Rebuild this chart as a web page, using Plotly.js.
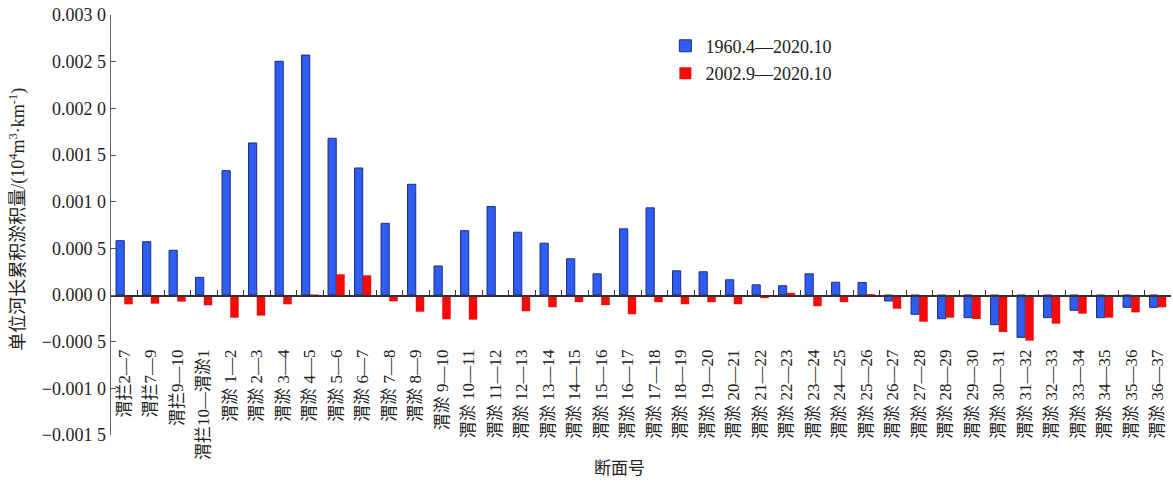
<!DOCTYPE html>
<html>
<head>
<meta charset="utf-8">
<script src="https://cdn.plot.ly/plotly-3.0.1.min.js"></script>
<style>html,body{margin:0;padding:0;background:#fff;}#chart{width:1173px;height:483px;}</style>
</head>
<body>
<div id="chart"></div>
<script>
const categories = ["渭拦2—7","渭拦7—9","渭拦9—10","渭拦10—渭淤1",
"渭淤 1—2","渭淤 2—3","渭淤 3—4","渭淤 4—5","渭淤 5—6","渭淤 6—7","渭淤 7—8","渭淤 8—9","渭淤 9—10","渭淤 10—11",
"渭淤 11—12","渭淤 12—13","渭淤 13—14","渭淤 14—15","渭淤 15—16","渭淤 16—17","渭淤 17—18","渭淤 18—19","渭淤 19—20","渭淤 20—21",
"渭淤 21—22","渭淤 22—23","渭淤 23—24","渭淤 24—25","渭淤 25—26","渭淤 26—27","渭淤 27—28","渭淤 28—29","渭淤 29—30","渭淤 30—31",
"渭淤 31—32","渭淤 32—33","渭淤 33—34","渭淤 34—35","渭淤 35—36","渭淤 36—37"];
const series1960 = [0.000582,0.000571,0.000479,0.000189,
0.001332,0.001629,0.002504,0.002571,0.001679,0.001361,0.000768,0.001186,0.000311,0.000689,
0.000948,0.000673,0.000555,0.000388,0.000227,0.000709,0.000934,0.000259,0.000249,0.000163,
0.000109,0.000099,0.000227,0.000137,0.000134,-0.000064,-0.000207,-0.000254,-0.000243,-0.000318,
-0.000454,-0.000243,-0.000164,-0.000243,-0.000132,-0.000132];
const series2002 = [-0.000100,-0.000093,-0.000071,-0.000110,
-0.000243,-0.000221,-0.000100,0.000006,0.000222,0.000211,-0.000068,-0.000179,-0.000260,-0.000264,
-0.000008,-0.000174,-0.000131,-0.000077,-0.000109,-0.000206,-0.000077,-0.000099,-0.000077,-0.000099,
-0.000034,0.000023,-0.000120,-0.000077,0.000010,-0.000147,-0.000286,-0.000243,-0.000257,-0.000396,
-0.000489,-0.000307,-0.000200,-0.000243,-0.000186,-0.000132];
const seriesNames = ["1960.4—2020.10","2002.9—2020.10"];
const yTickVals = [-0.0015,-0.001,-0.0005,0,0.0005,0.001,0.0015,0.002,0.0025,0.003];
const yTickText = ["−0.001 5","−0.001 0","−0.000 5","0.000 0","0.000 5","0.001 0","0.001 5","0.002 0","0.002 5","0.003 0"];

const FONT = "Liberation Serif, 'Times New Roman', 'Noto Sans CJK SC', serif";

const traces = [
  {type:'bar', x:categories, y:series1960, name:seriesNames[0], legendgroup:'a',
   offset:-0.31, width:0.31,
   marker:{color:'#2F5DF2', line:{color:'#1B2C86', width:1}}},
  {type:'bar', x:categories, y:series2002, name:seriesNames[1], legendgroup:'b',
   offset:0.0, width:0.32,
   marker:{color:'#F50A0A', line:{color:'#F50A0A', width:0}}},
  {type:'bar', x:categories, y:categories.map(()=>null), xaxis:'x2', showlegend:false, hoverinfo:'skip'}
];

const layout = {
  width:1173, height:483,
  margin:{l:111, r:2, t:15, b:48},
  paper_bgcolor:'#fff', plot_bgcolor:'#fff',
  font:{family:FONT, size:16, color:'#222'},
  barmode:'overlay',
  showlegend:true,
  legend:{x:0.523, y:0.97, xanchor:'left', yanchor:'top', traceorder:'grouped', tracegroupgap:1,
          font:{family:FONT, size:18, color:'#222'}, bgcolor:'rgba(0,0,0,0)'},
  xaxis:{type:'category', anchor:'free', position:0.214, showline:false, ticks:'', showgrid:false,
         zeroline:false, tickangle:-90, tickfont:{family:FONT, size:17, color:'#222'}, automargin:false,
         range:[-0.5, 39.5]},
  xaxis2:{type:'category', matches:'x', overlaying:'x', anchor:'free', position:0.3333,
          showline:true, linecolor:'#333', linewidth:1.5, ticks:'inside', tickson:'boundaries',
          ticklen:5, tickcolor:'#333', showticklabels:false, showgrid:false, zeroline:false},
  yaxis:{range:[-0.0015,0.003], tickvals:yTickVals, ticktext:yTickText, ticks:'inside', ticklen:5,
         tickcolor:'#555', showline:true, linecolor:'#666', linewidth:1.5, showgrid:false,
         zeroline:false, tickfont:{family:FONT, size:18, color:'#222'}, automargin:false},
  annotations:[
    {text:'单位河长累积淤积量/(10<sup>4</sup>m<sup>3</sup>·km<sup>-1</sup>)', xref:'paper', yref:'paper',
     x:-0.088, y:0.514, textangle:-90, showarrow:false, font:{family:FONT, size:18, color:'#222'},
     xanchor:'center', yanchor:'middle'},
    {text:'断面号', xref:'paper', yref:'paper', x:0.48, y:-0.0786, showarrow:false,
     font:{family:FONT, size:17, color:'#222'}, xanchor:'center', yanchor:'middle'}
  ]
};

Plotly.newPlot('chart', traces, layout, {displayModeBar:false, staticPlot:true});
</script>
</body>
</html>
